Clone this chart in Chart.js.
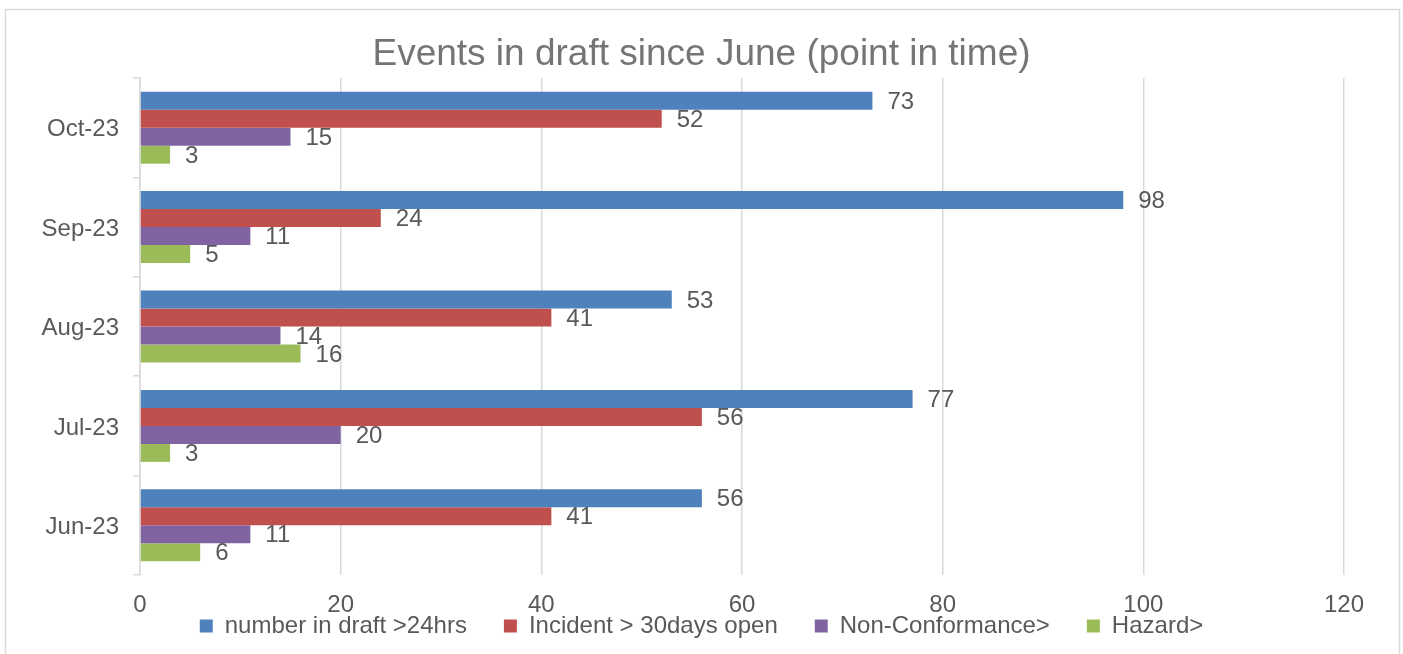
<!DOCTYPE html>
<html>
<head>
<meta charset="utf-8">
<script src="https://cdn.jsdelivr.net/npm/chart.js@4.4.0/dist/chart.umd.min.js"></script>
<style>
  html, body { margin: 0; padding: 0; background: #fff; }
  #wrap { width: 1403px; height: 654px; }
</style>
</head>
<body>
<div id="wrap"><canvas id="c" width="1403" height="654"></canvas></div>
<script>
// categories top to bottom, as in the picture
const months = ['Oct-23', 'Sep-23', 'Aug-23', 'Jul-23', 'Jun-23'];
const draft24 = [73, 98, 53, 77, 56];
const incident30 = [52, 24, 41, 56, 41];
const nonConf = [15, 11, 14, 20, 11];
const hazard = [3, 5, 16, 3, 6];
const xTicks = [0, 20, 40, 60, 80, 100, 120];

const TEXT = '#595959';
const FONT = '"Liberation Sans", Arial, sans-serif';

// outer frame of the chart
const framePlugin = {
  id: 'frame',
  afterDraw(chart) {
    const ctx = chart.ctx;
    ctx.save();
    ctx.strokeStyle = '#d9d9d9';
    ctx.lineWidth = 1.5;
    ctx.strokeRect(5.5, 9.5, 1394, 660);
    ctx.restore();
  }
};

// legend sits tight under the tick labels: shrink its layout box, then pin its top
// (bottom goes to the canvas edge since the legend clips to its own box)
const LEGEND_H = 33, LEGEND_TOP = 577;
const legendPin = {
  id: 'legendPin',
  beforeLayout(chart) {
    const lg = chart.legend;
    if (!lg || lg.__pinned) return;
    const fit = lg.fit;
    lg.fit = function () { fit.call(this); this.height = LEGEND_H; };
    lg.__pinned = true;
  },
  afterLayout(chart) {
    const lg = chart.legend;
    if (!lg) return;
    lg.top = LEGEND_TOP;
    lg.bottom = chart.height;
  }
};

// value labels right of each bar end
const valueLabels = {
  id: 'valueLabels',
  afterDatasetsDraw(chart) {
    const ctx = chart.ctx;
    ctx.save();
    ctx.font = '24px ' + FONT;
    ctx.fillStyle = TEXT;
    ctx.textAlign = 'left';
    ctx.textBaseline = 'middle';
    chart.data.datasets.forEach((ds, i) => {
      chart.getDatasetMeta(i).data.forEach((bar, j) => {
        ctx.fillText(String(ds.data[j]), bar.x + 15, bar.y + 1.5);
      });
    });
    ctx.restore();
  }
};

function ds(label, data, color) {
  return { label, data, backgroundColor: color, borderWidth: 0,
           categoryPercentage: 0.724, barPercentage: 1.0 };
}

new Chart(document.getElementById('c'), {
  type: 'bar',
  data: {
    labels: months,
    datasets: [
      ds('number in draft >24hrs', draft24, '#4f81bd'),
      ds('Incident > 30days open', incident30, '#c0504d'),
      ds('Non-Conformance>', nonConf, '#8064a2'),
      ds('Hazard>', hazard, '#9bbb59'),
    ]
  },
  options: {
    indexAxis: 'y',
    responsive: false,
    animation: false,
    layout: { padding: { left: 0, right: 0, top: 0, bottom: 6 } },
    scales: {
      x: {
        min: 0, max: 120,
        afterBuildTicks: s => { s.ticks = xTicks.map(v => ({ value: v })); },
        grid: { color: '#d9d9d9', lineWidth: 1.5, drawTicks: false },
        border: { display: false },
        ticks: { color: TEXT, font: { family: FONT, size: 24 }, padding: 16 },
        afterFit: s => { s.height = 40; }
      },
      y: {
        grid: { drawOnChartArea: false, color: '#d9d9d9', lineWidth: 1.5, tickLength: 7 },
        border: { color: '#d9d9d9', width: 1.5 },
        ticks: { color: TEXT, font: { family: FONT, size: 24 }, padding: 14, labelOffset: 2 },
        afterFit: s => { s.width = 140; }
      },
      // empty right-hand gutter so title and legend centre on the whole frame
      gutter: {
        type: 'linear', position: 'right',
        grid: { display: false }, border: { display: false }, ticks: { display: false },
        afterFit: s => { s.width = 59; }
      }
    },
    plugins: {
      title: {
        display: true,
        text: 'Events in draft since June (point in time)',
        color: '#757575',
        font: { family: FONT, size: 37, weight: 'normal' },
        padding: { top: 33, bottom: 0.6 }
      },
      legend: {
        position: 'bottom',
        labels: { color: TEXT, font: { family: FONT, size: 24 }, boxWidth: 13, boxHeight: 13, padding: 37 }
      },
      tooltip: { enabled: false }
    }
  },
  plugins: [framePlugin, legendPin, valueLabels]
});
</script>
</body>
</html>
